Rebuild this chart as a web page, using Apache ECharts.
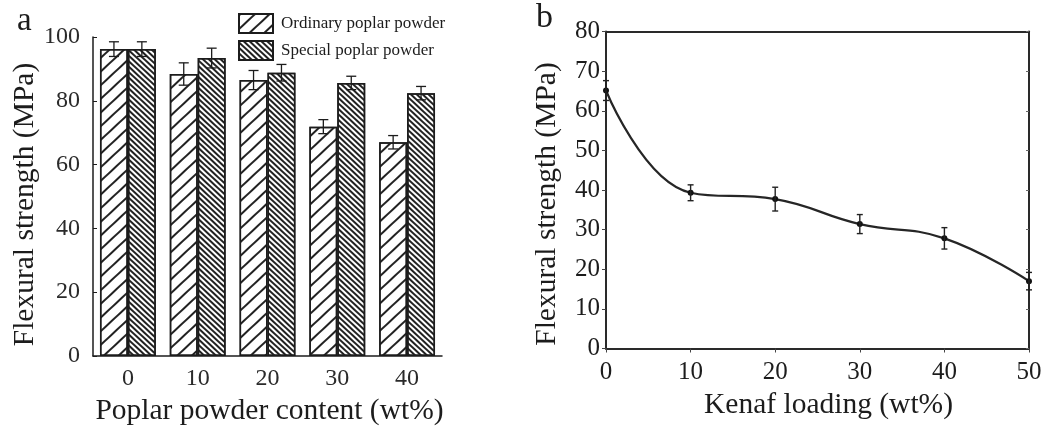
<!DOCTYPE html>
<html>
<head>
<meta charset="utf-8">
<script src="https://cdn.jsdelivr.net/npm/echarts@6/dist/echarts.min.js"></script>
<style>
  html, body { margin: 0; padding: 0; background: #fff; }
  #chart { width: 1049px; height: 427px; }
</style>
</head>
<body>
<div id="chart"></div>
<script>
// Panel a: flexural strength vs poplar powder content
const poplarContent = ['0', '10', '20', '30', '40'];
const ordinaryStrength = [96.2, 88.4, 86.5, 71.9, 67.0];
const ordinaryError = [2.3, 3.5, 3.0, 2.2, 2.1];
const specialStrength = [96.2, 93.4, 88.8, 85.6, 82.4];
const specialError = [2.3, 3.1, 2.6, 2.1, 2.1];

// Panel b: flexural strength vs kenaf loading
const kenafLoading = [0, 10, 20, 30, 40, 50];
const kenafStrength = [65.1, 39.3, 37.7, 31.4, 27.8, 17.0];
const kenafError = [2.5, 2.0, 3.0, 2.4, 2.7, 2.2];

const FONT = 'Liberation Serif';
const INK = '#1c1c1c';

const chart = echarts.init(document.getElementById('chart'), null, { renderer: 'canvas' });

// error bar rows: [x, low, high, groupIndex]
const errA = [];
poplarContent.forEach((c, i) => {
  errA.push([i, ordinaryStrength[i] - ordinaryError[i], ordinaryStrength[i] + ordinaryError[i], 0]);
  errA.push([i, specialStrength[i] - specialError[i], specialStrength[i] + specialError[i], 1]);
});
const errB = kenafLoading.map((x, i) => [x, kenafStrength[i] - kenafError[i], kenafStrength[i] + kenafError[i]]);

function errorBarA(params, api) {
  const band = api.size([1, 0])[0];
  const barW = band * 0.8 / 2;
  const off = (api.value(3) === 0 ? -0.5 : 0.5) * barW;
  const lo = api.coord([api.value(0), api.value(1)]);
  const hi = api.coord([api.value(0), api.value(2)]);
  const x = lo[0] + off;
  const cap = 5;
  const style = { stroke: INK, lineWidth: 1.3 };
  return {
    type: 'group',
    children: [
      { type: 'line', shape: { x1: x, y1: lo[1], x2: x, y2: hi[1] }, style },
      { type: 'line', shape: { x1: x - cap, y1: lo[1], x2: x + cap, y2: lo[1] }, style },
      { type: 'line', shape: { x1: x - cap, y1: hi[1], x2: x + cap, y2: hi[1] }, style }
    ]
  };
}

function errorBarB(params, api) {
  const lo = api.coord([api.value(0), api.value(1)]);
  const hi = api.coord([api.value(0), api.value(2)]);
  const x = lo[0];
  const cap = 3;
  const style = { stroke: '#222', lineWidth: 1.4 };
  return {
    type: 'group',
    children: [
      { type: 'line', shape: { x1: x, y1: lo[1], x2: x, y2: hi[1] }, style },
      { type: 'line', shape: { x1: x - cap, y1: lo[1], x2: x + cap, y2: lo[1] }, style },
      { type: 'line', shape: { x1: x - cap, y1: hi[1], x2: x + cap, y2: hi[1] }, style }
    ]
  };
}

const option = {
  backgroundColor: '#fff',
  animation: false,
  textStyle: { fontFamily: FONT, color: INK },
  title: [
    { text: 'a', left: 12, top: 0, textStyle: { fontFamily: FONT, fontSize: 33, fontWeight: 'normal', color: INK } },
    { text: 'b', left: 531, top: -4, textStyle: { fontFamily: FONT, fontSize: 34, fontWeight: 'normal', color: INK } }
  ],
  legend: {
    orient: 'vertical',
    left: 233,
    top: 8,
    itemWidth: 34,
    itemHeight: 19,
    itemGap: 6,
    icon: 'rect',
    data: ['Ordinary poplar powder', 'Special poplar powder'],
    textStyle: { fontFamily: FONT, fontSize: 17, color: INK, padding: [0, 0, 0, 3] }
  },
  grid: [
    { left: 93, top: 37, width: 349, height: 319, outerBoundsMode: 'none', containLabel: false },
    { left: 606, top: 31.5, width: 423, height: 317, outerBoundsMode: 'none', containLabel: false }
  ],
  xAxis: [
    {
      type: 'category', gridIndex: 0, data: poplarContent,
      name: 'Poplar powder content (wt%)', nameLocation: 'middle', nameGap: 38,
      nameTextStyle: { fontFamily: FONT, fontSize: 29.5, color: INK, padding: [0, 0, 0, 4] },
      axisLine: { lineStyle: { color: INK, width: 1.5 } },
      axisTick: { show: false },
      axisLabel: { fontFamily: FONT, fontSize: 24, color: '#2a2a2a', margin: 11 },
      splitLine: { show: false }
    },
    {
      type: 'value', gridIndex: 1, min: 0, max: 50, interval: 10,
      name: 'Kenaf loading (wt%)', nameLocation: 'middle', nameGap: 42,
      nameTextStyle: { fontFamily: FONT, fontSize: 29.5, color: INK, padding: [0, 0, 0, 22] },
      axisLine: { onZero: false, lineStyle: { color: '#2a2a2a', width: 2 } },
      axisTick: { show: true, inside: false, length: 4, lineStyle: { color: '#444' } },
      axisLabel: { fontFamily: FONT, fontSize: 25, color: INK, margin: 11 },
      splitLine: { show: false }
    }
  ],
  yAxis: [
    {
      type: 'value', gridIndex: 0, min: 0, max: 100, interval: 20,
      name: 'Flexural strength (MPa)', nameLocation: 'middle', nameGap: 50,
      nameTextStyle: { fontFamily: FONT, fontSize: 29.5, color: INK, padding: [0, 16, 0, 0] },
      axisLine: { show: true, lineStyle: { color: INK, width: 1.5 } },
      axisTick: { show: true, inside: true, length: 4, lineStyle: { color: INK } },
      axisLabel: { fontFamily: FONT, fontSize: 24, color: '#2a2a2a', margin: 13 },
      splitLine: { show: false }
    },
    {
      type: 'value', gridIndex: 1, min: 0, max: 80, interval: 10,
      name: 'Flexural strength (MPa)', nameLocation: 'middle', nameGap: 44,
      nameTextStyle: { fontFamily: FONT, fontSize: 29.5, color: INK, padding: [0, 28, 0, 0] },
      axisLine: { show: true, onZero: false, lineStyle: { color: '#2a2a2a', width: 2 } },
      axisTick: { show: true, inside: false, length: 4, lineStyle: { color: '#444' } },
      axisLabel: { fontFamily: FONT, fontSize: 25, color: INK, margin: 6 },
      splitLine: { show: false }
    },
    // frame for panel b (right edge)
    {
      type: 'value', gridIndex: 1, min: 0, max: 80, interval: 10, position: 'right',
      axisLine: { show: true, onZero: false, lineStyle: { color: '#2a2a2a', width: 2 } },
      axisTick: { show: true, inside: true, length: 3, lineStyle: { color: '#666' } },
      axisLabel: { show: false }, splitLine: { show: false }
    }
  ],
  series: [
    {
      name: 'Ordinary poplar powder', type: 'bar', xAxisIndex: 0, yAxisIndex: 0,
      data: ordinaryStrength, barCategoryGap: '20%', barGap: '0%',
      itemStyle: {
        color: '#fff', borderColor: INK, borderWidth: 1.5,
        decal: { symbol: 'rect', symbolSize: 1, dashArrayX: [1, 0], dashArrayY: [2, 7.5], rotation: -0.75, color: '#222' }
      }
    },
    {
      name: 'Special poplar powder', type: 'bar', xAxisIndex: 0, yAxisIndex: 0,
      data: specialStrength, barCategoryGap: '20%', barGap: '0%',
      itemStyle: {
        color: '#fff', borderColor: INK, borderWidth: 1.5,
        decal: { symbol: 'rect', symbolSize: 1, dashArrayX: [1, 0], dashArrayY: [1.6, 1.9], rotation: 0.75, color: '#222' }
      }
    },
    {
      type: 'custom', xAxisIndex: 0, yAxisIndex: 0, data: errA, renderItem: errorBarA,
      encode: { x: 0, y: [1, 2] }, z: 5
    },
    {
      type: 'line', xAxisIndex: 1, yAxisIndex: 1,
      data: kenafLoading.map((x, i) => [x, kenafStrength[i]]),
      smooth: 0.45, symbol: 'circle', symbolSize: 6,
      lineStyle: { color: '#262626', width: 2.2 },
      itemStyle: { color: '#111' }
    },
    {
      type: 'custom', xAxisIndex: 1, yAxisIndex: 1, data: errB, renderItem: errorBarB,
      encode: { x: 0, y: [1, 2] }, z: 5
    }
  ]
};

// top edge of panel b frame
option.xAxis.push({
  type: 'value', gridIndex: 1, min: 0, max: 50, interval: 10, position: 'top',
  axisLine: { show: true, onZero: false, lineStyle: { color: '#2a2a2a', width: 2 } },
  axisTick: { show: false }, axisLabel: { show: false }, splitLine: { show: false }
});

chart.setOption(option);
</script>
</body>
</html>
